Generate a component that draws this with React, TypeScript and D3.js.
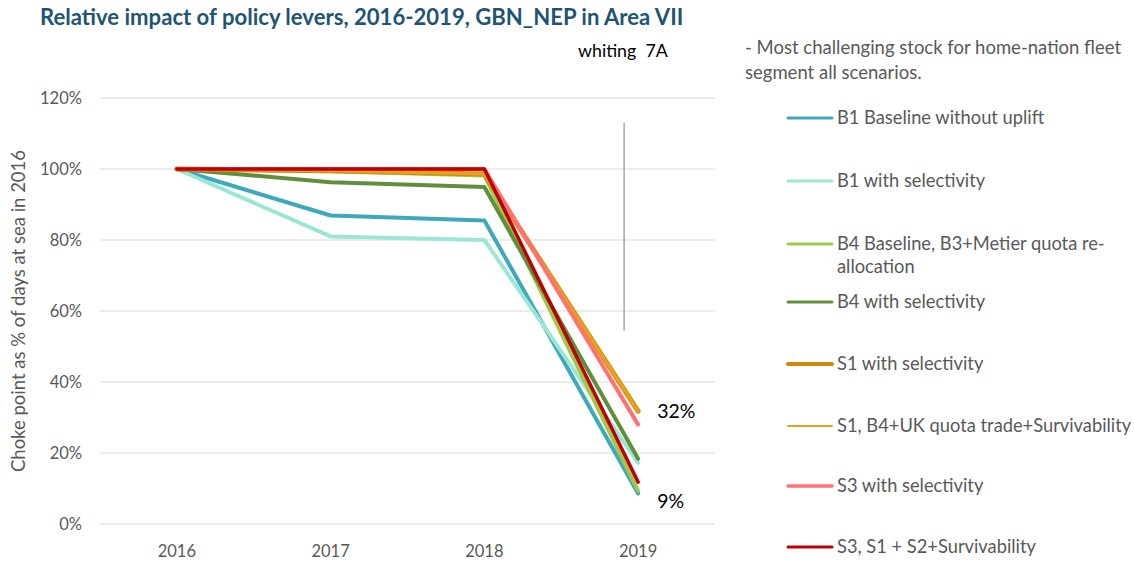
import React from 'react';
import * as d3 from 'd3';

const years = ['2016', '2017', '2018', '2019'];

const seriesNames = [
  'B1 Baseline without uplift',
  'B1 with selectivity',
  'B4 Baseline, B3+Metier quota re-allocation',
  'B4 with selectivity',
  'S1 with selectivity',
  'S1, B4+UK quota trade+Survivability',
  'S3 with selectivity',
  'S3, S1 + S2+Survivability',
];

// percent of 2016 days at sea
const b1Base = [100, 86.9, 85.5, 8.6];
const b1Sel = [100, 81.0, 80.0, 17.2];
const b4Base = [100, 99.4, 98.2, 9.3];
const b4Sel = [100, 96.3, 94.9, 18.4];
const s1Sel = [100, 99.5, 98.6, 31.8];
const s1Uk = [100, 99.5, 98.6, 31.8];
const s3Sel = [100, 100, 100, 28.0];
const s3Surv = [100, 100, 100, 11.8];

const seriesValues = [b1Base, b1Sel, b4Base, b4Sel, s1Sel, s1Uk, s3Sel, s3Surv];
const colors = ['#3EA8BD', '#9CE6D5', '#9DCB48', '#5F8F3C', '#D08B0C', '#E9A21F', '#FF7272', '#C00000'];
const widths = [4, 4, 4, 4, 5, 3, 4, 3.5];
const legendWidths = [3, 3, 3, 3, 4, 2, 3.5, 3];

const yTicks = [0, 20, 40, 60, 80, 100, 120];
const endLabels = [{ value: 31.8, text: '32%' }, { value: 8.6, text: '9%' }];
// thin vertical marker near 2019 (top, bottom in %)
const markerRange = [113, 54.5];

const W = 1134;
const H = 562;
const font = 'Lato, "Open Sans", sans-serif';

export default function App() {
  const x = d3.scaleBand<string>().domain(years).range([100, 715]).padding(0);
  const y = d3.scaleLinear().domain([0, 120]).range([524, 98]);
  const cx = (yr: string) => (x(yr) ?? 0) + x.bandwidth() / 2;

  const line = d3
    .line<number>()
    .x((_, i) => cx(years[i]))
    .y((d) => y(d));

  const legendY = [118, 181, 244, 302, 364, 426, 486, 547];

  return (
    <svg width={W} height={H} style={{ position: 'absolute', left: 0, top: 0, background: '#fff' }}>
      <text x={40} y={25} fontFamily={font} fontWeight={700} fontSize={22.1} fill="#1F5574">
        Relative impact of policy levers, 2016-2019, GBN_NEP in Area VII
      </text>
      <text x={578} y={57} fontFamily={font} fontSize={17.8} fill="#000" style={{ whiteSpace: 'pre' }}>
        {'whiting  7A'}
      </text>

      {yTicks.map((t) => (
        <g key={t}>
          <line x1={100} x2={715} y1={y(t)} y2={y(t)} stroke="#D9D9D9" strokeWidth={1} />
          <text x={82} y={y(t)} dy="0.35em" textAnchor="end" fontFamily={font} fontSize={16.5} fill="#595959">
            {t}%
          </text>
        </g>
      ))}

      <text
        transform={`translate(25,${y(60)}) rotate(-90)`}
        textAnchor="middle"
        fontFamily={font}
        fontSize={18.5}
        fill="#595959"
      >
        Choke point as % of days at sea in 2016
      </text>

      {years.map((yr) => (
        <text key={yr} x={cx(yr)} y={551} dy="0.35em" textAnchor="middle" fontFamily={font} fontSize={16.5} fill="#595959">
          {yr}
        </text>
      ))}

      <line
        x1={cx('2019') - 14}
        x2={cx('2019') - 14}
        y1={y(markerRange[0])}
        y2={y(markerRange[1])}
        stroke="#A6A6A6"
        strokeWidth={1.5}
      />

      {seriesValues.map((vals, i) => (
        <path
          key={seriesNames[i]}
          d={line(vals) ?? ''}
          fill="none"
          stroke={colors[i]}
          strokeWidth={widths[i]}
          strokeLinejoin="round"
          strokeLinecap="round"
        />
      ))}

      {endLabels.map((l) => (
        <text key={l.text} x={cx('2019') + 19} y={y(l.value) + (l.text === '9%' ? 8 : 0)} dy="0.35em" fontFamily={font} fontSize={19.5} fill="#000">
          {l.text}
        </text>
      ))}

      <text fontFamily={font} fontSize={18.5} fill="#595959">
        <tspan x={745} y={54}>- Most challenging stock for home-nation fleet</tspan>
        <tspan x={745} y={79}>segment all scenarios.</tspan>
      </text>

      {seriesNames.map((name, i) => {
        const ly = legendY[i];
        const wrapped = i === 2 ? ['B4 Baseline, B3+Metier quota re-', 'allocation'] : [name];
        return (
          <g key={name}>
            <line x1={788} x2={832} y1={ly} y2={ly} stroke={colors[i]} strokeWidth={legendWidths[i]} strokeLinecap="round" />
            <text fontFamily={font} fontSize={18.3} fill="#595959">
              {wrapped.map((w, k) => (
                <tspan key={k} x={837} y={ly + k * 23} dy="0.35em">
                  {w}
                </tspan>
              ))}
            </text>
          </g>
        );
      })}
    </svg>
  );
}
